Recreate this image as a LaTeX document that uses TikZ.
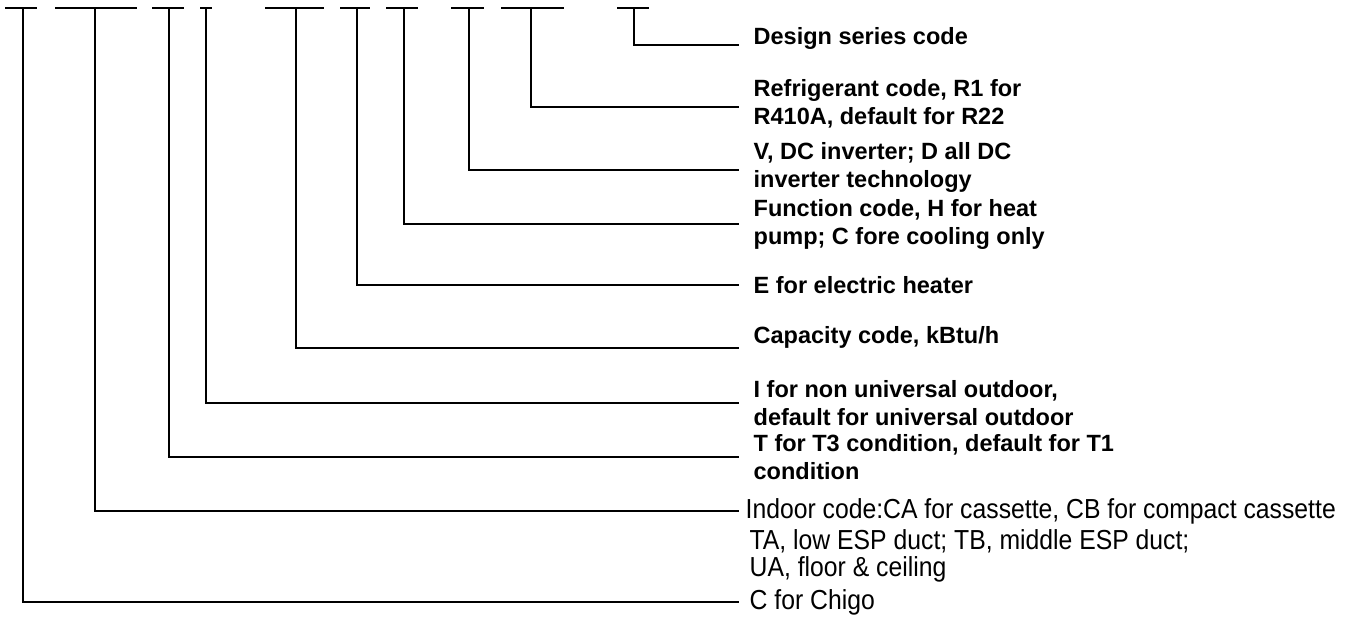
\documentclass[tikz,border=0pt]{standalone}
\usepackage{fontspec}
\setmainfont{Liberation Sans}
\newfontfamily\narrowfont[FakeStretch=0.9]{Liberation Sans}

\begin{document}
\begin{tikzpicture}[x=1pt,y=-1pt,line width=1.3pt,
    code/.style={anchor=west,inner xsep=14pt,inner ysep=0pt,align=left,
        font=\fontsize{23.5}{28}\selectfont\bfseries},
    codenarrow/.style={code,inner xsep=10pt,font=\narrowfont\fontsize{27.5}{27}\selectfont}]
        \useasboundingbox (0,0) rectangle (1351,623);
        % the code positions: dash from \a to \b, tick at \v
        \foreach \a/\b/\v/\n in {5/37/23/1,55/137/95/2,152/184/169/3,200/212/206/4,
            265/324/296/5,340/370/357/6,386/418/404/7,451/484/469/8,501/564/531/9,617/649/634/10}{
            \draw (\a,8)--(\b,8);
            \coordinate (t\n) at (\v,8);
        }
        % meanings
        \node[code,anchor=base west] (design) at (739,45) {Design series code};
        \node[code] (refrig) at (739,104) {Refrigerant code, R1 for\\R410A, default for R22};
        \node[code] (dcinv) at (739,167) {V, DC inverter; D all DC\\inverter technology};
        \node[code] (func) at (739,224) {Function code, H for heat\\pump; C fore cooling only};
        \node[code] (heater) at (739,285) {E for electric heater};
        \node[code,anchor=base west] (capac) at (739,343) {Capacity code, kBtu/h};
        \node[code] (outdoor) at (739,403) {I for non universal outdoor,\\default for universal outdoor};
        \node[code] (tcond) at (739,457) {T for T3 condition, default for T1\\condition};
        \node[codenarrow,inner xsep=6pt] (indoor) at (739,511) {Indoor code:CA for cassette, CB for compact cassette};
        \node[codenarrow] (indoorb) at (739,556) {TA, low ESP duct; TB, middle ESP duct;\\UA, floor \& ceiling};
        \node[codenarrow] (chigo) at (739,602) {C for Chigo};
        % connectors
        \draw (t10) |- (design.base west);
        \draw (t9) |- ([yshift=-3pt]refrig.west);
        \draw (t8) |- ([yshift=-3pt]dcinv.west);
        \draw (t7) |- (func);
        \draw (t6) |- (heater);
        \draw (t5) |- ([yshift=-5pt]capac.base west);
        \draw (t4) |- (outdoor);
        \draw (t3) |- (tcond);
        \draw (t2) |- (indoor);
        \draw (t1) |- (chigo);
    \end{tikzpicture}
\end{document}
